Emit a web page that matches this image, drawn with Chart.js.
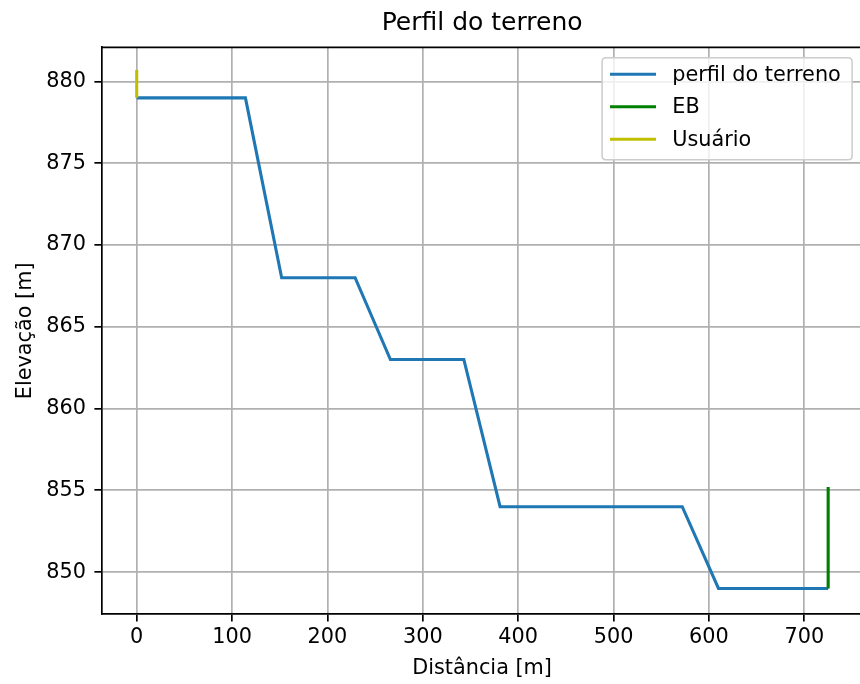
<!DOCTYPE html>
<html>
<head>
<meta charset="utf-8">
<script src="https://cdn.jsdelivr.net/npm/chart.js@4"></script>
<style>
  html, body { margin: 0; padding: 0; background: #fff; overflow: hidden; }
  #wrap { position: absolute; left: 0; top: 0; width: 864px; height: 684px; }
</style>
</head>
<body>
<div id="wrap"><canvas id="c" width="864" height="684"></canvas></div>
<script>
// ---- data ----
const distances  = [0, 114, 152, 229, 266, 343, 381, 572, 610, 725];
const elevations = [879, 879, 868, 868, 863, 863, 854, 854, 849, 849];
const ebX = [725, 725];
const ebY = [849, 855.2];
const userX = [0, 0];
const userY = [879, 880.7];
const xTicks = [0, 100, 200, 300, 400, 500, 600, 700];
const yTicks = [850, 855, 860, 865, 870, 875, 880];
const seriesLabels = ['perfil do terreno', 'EB', 'Usuário'];

const FONT = 'DejaVu Sans';
const FS = 20.8;
const LW = 3.1;

function pts(xs, ys) { return xs.map((x, i) => ({ x: x, y: ys[i] })); }

const framePlugin = {
  id: 'frame',
  afterDraw(chart) {
    const { ctx, chartArea: a } = chart;
    ctx.save();
    ctx.strokeStyle = '#000';
    ctx.lineWidth = 1.7;
    ctx.beginPath();
    ctx.moveTo(a.left, a.top); ctx.lineTo(a.right, a.top);
    ctx.moveTo(a.right, a.top); ctx.lineTo(a.right, a.bottom);
    ctx.stroke();

    // matplotlib-style legend inside the axes, upper right
    const w = 250, h = 102;
    const lx = a.right - 10.4 - w, ly = a.top + 10.4;
    const r = 4;
    ctx.beginPath();
    ctx.moveTo(lx + r, ly);
    ctx.lineTo(lx + w - r, ly); ctx.quadraticCurveTo(lx + w, ly, lx + w, ly + r);
    ctx.lineTo(lx + w, ly + h - r); ctx.quadraticCurveTo(lx + w, ly + h, lx + w - r, ly + h);
    ctx.lineTo(lx + r, ly + h); ctx.quadraticCurveTo(lx, ly + h, lx, ly + h - r);
    ctx.lineTo(lx, ly + r); ctx.quadraticCurveTo(lx, ly, lx + r, ly);
    ctx.closePath();
    ctx.fillStyle = 'rgba(255,255,255,0.8)';
    ctx.fill();
    ctx.strokeStyle = '#cccccc';
    ctx.lineWidth = 1.5;
    ctx.stroke();

    const rows = [16.6, 49, 81.6];
    ctx.font = FS + 'px "' + FONT + '"';
    ctx.textBaseline = 'middle';
    ctx.textAlign = 'left';
    chart.data.datasets.forEach((ds, i) => {
      const y = ly + rows[i];
      ctx.strokeStyle = ds.borderColor;
      ctx.lineWidth = LW;
      ctx.beginPath();
      ctx.moveTo(lx + 7.9, y); ctx.lineTo(lx + 53.9, y);
      ctx.stroke();
      ctx.fillStyle = '#000';
      ctx.fillText(ds.label, lx + 70.2, y + 1);
    });
    ctx.restore();
  }
};

new Chart(document.getElementById('c'), {
  type: 'line',
  data: {
    datasets: [
      { label: seriesLabels[0], data: pts(distances, elevations), borderColor: '#1f77b4', order: 3 },
      { label: seriesLabels[1], data: pts(ebX, ebY), borderColor: '#008000', order: 2 },
      { label: seriesLabels[2], data: pts(userX, userY), borderColor: '#bfbf00', order: 1 }
    ]
  },
  options: {
    responsive: false,
    devicePixelRatio: 1,
    animation: false,
    layout: { padding: { left: 0, right: 1.5, top: 0, bottom: 0 } },
    elements: {
      line: { borderWidth: LW, tension: 0, fill: false, borderCapStyle: 'butt', borderJoinStyle: 'miter' },
      point: { radius: 0, hoverRadius: 0 }
    },
    plugins: {
      legend: { display: false },
      tooltip: { enabled: false },
      title: {
        display: true,
        text: 'Perfil do terreno',
        fullSize: false,
        color: '#000',
        font: { family: FONT, size: 25, weight: 'normal', lineHeight: 1.2 },
        padding: { top: 8, bottom: 9.3 }
      }
    },
    scales: {
      x: {
        type: 'linear',
        min: -36.7,
        max: 761,
        afterBuildTicks(s) { s.ticks = xTicks.map(v => ({ value: v })); },
        afterFit(s) { s.height = 69.7; },
        ticks: { color: '#000', font: { family: FONT, size: FS }, padding: 4, maxRotation: 0, autoSkip: false },
        grid: { color: '#b0b0b0', lineWidth: 1.7, tickColor: '#000', tickLength: 7.3, tickWidth: 1.7 },
        border: { display: true, color: '#000', width: 1.7 },
        title: { display: true, text: 'Distância [m]', color: '#000', font: { family: FONT, size: FS, lineHeight: 1.2 }, padding: { top: 0, bottom: 2.5 } }
      },
      y: {
        type: 'linear',
        min: 847.42,
        max: 882.09,
        afterBuildTicks(s) { s.ticks = yTicks.map(v => ({ value: v })); },
        afterFit(s) { s.width = 101.7; },
        ticks: { color: '#000', font: { family: FONT, size: FS }, padding: 8.5, autoSkip: false },
        grid: { color: '#b0b0b0', lineWidth: 1.7, tickColor: '#000', tickLength: 7.3, tickWidth: 1.7 },
        border: { display: true, color: '#000', width: 1.7 },
        title: { display: true, text: 'Elevação [m]', color: '#000', font: { family: FONT, size: FS, lineHeight: 1.2 }, padding: { top: 13.5, bottom: 0 } }
      }
    }
  },
  plugins: [framePlugin]
});
</script>
</body>
</html>
